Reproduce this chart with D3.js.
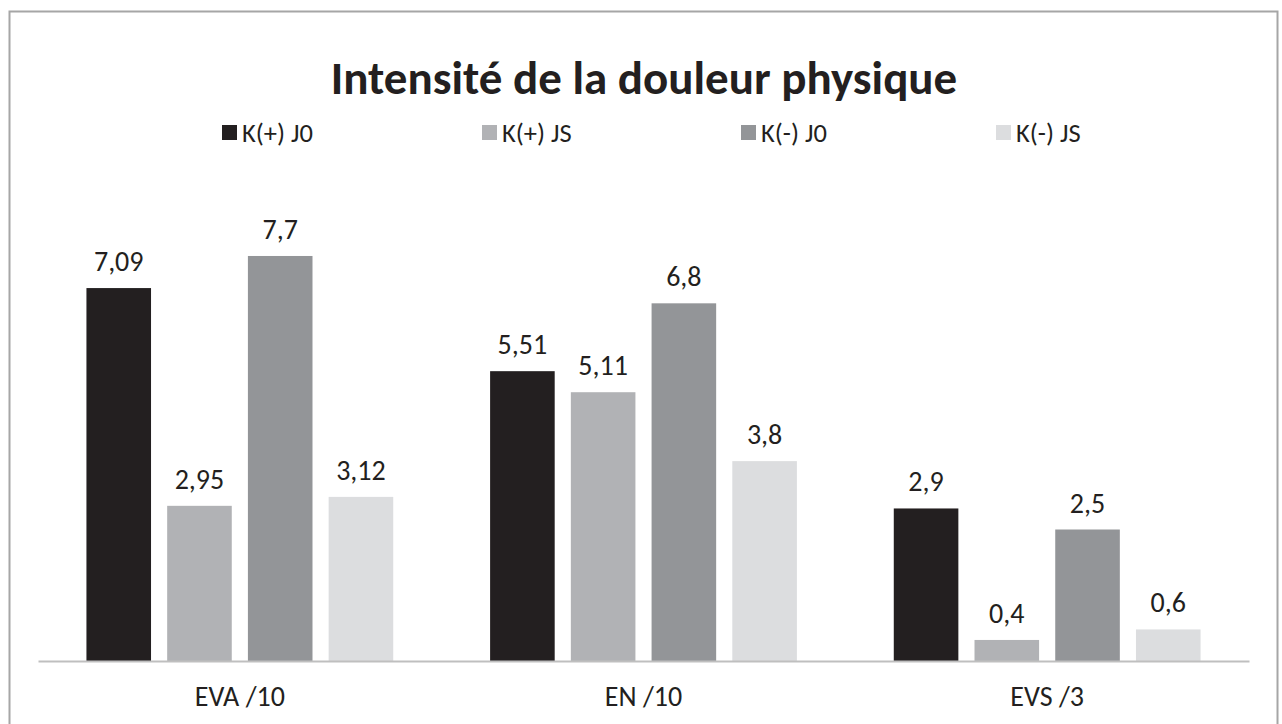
<!DOCTYPE html>
<html>
<head>
<meta charset="utf-8">
<script src="https://cdn.jsdelivr.net/npm/d3@7"></script>
<style>
  body { margin: 0; background: #fff; }
  svg { display: block; font-family: Carlito, Calibri, Lato, sans-serif; }
</style>
</head>
<body>
<svg width="1282" height="724"></svg>
<script>
const categories = ["EVA /10", "EN /10", "EVS /3"];
const series = ["K(+) J0", "K(+) JS", "K(-) J0", "K(-) JS"];
const kPlusJ0 = [7.09, 5.51, 2.9];
const kPlusJS = [2.95, 5.11, 0.4];
const kMinusJ0 = [7.7, 6.8, 2.5];
const kMinusJS = [3.12, 3.8, 0.6];
const colors = ["#231f20", "#b1b2b5", "#939598", "#dcdddf"];

const values = [kPlusJ0, kPlusJS, kMinusJ0, kMinusJS];
const rows = categories.map((c, i) => ({
  cat: c,
  vals: series.map((s, j) => ({ key: s, value: values[j][i] }))
}));

const svg = d3.select("svg");
const width = +svg.attr("width");
const margin = { top: 187.6, right: 33, bottom: 63, left: 38 };
const baseY = 661;

// cadre
svg.append("rect")
  .attr("x", 9.5).attr("y", 11.5)
  .attr("width", 1268).attr("height", 730)
  .attr("fill", "none")
  .attr("stroke", "#a6a6a6")
  .attr("stroke-width", 2);

svg.append("text")
  .attr("x", 644).attr("y", 94)
  .attr("text-anchor", "middle")
  .attr("font-size", 47)
  .attr("font-weight", "bold")
  .attr("fill", "#231f20")
  .text("Intensité de la douleur physique");

const x0 = d3.scaleBand().domain(categories)
  .range([margin.left, width - margin.right]);
const x1 = d3.scaleBand().domain(series)
  .range([0, x0.bandwidth()])
  .paddingInner(0.2).paddingOuter(0.6);
const y = d3.scaleLinear().domain([0, 9]).range([baseY, margin.top]);
const color = d3.scaleOrdinal(series, colors);

// legende
const legendX = [222, 482, 741, 996];
const lg = svg.append("g").selectAll("g")
  .data(series).join("g")
  .attr("transform", (d, i) => `translate(${legendX[i]},125)`);
lg.append("rect").attr("width", 15).attr("height", 15).attr("fill", d => color(d));
lg.append("text").attr("x", 20).attr("y", 17)
  .attr("font-size", 26.5).attr("fill", "#231f20")
  .text(d => d);

const groups = svg.append("g").selectAll("g")
  .data(rows).join("g")
  .attr("transform", d => `translate(${x0(d.cat)},0)`);

groups.selectAll("rect")
  .data(d => d.vals).join("rect")
  .attr("x", d => x1(d.key))
  .attr("width", x1.bandwidth())
  .attr("y", d => y(d.value))
  .attr("height", d => y(0) - y(d.value))
  .attr("fill", d => color(d.key));

groups.selectAll("text")
  .data(d => d.vals).join("text")
  .attr("x", d => x1(d.key) + x1.bandwidth() / 2)
  .attr("y", d => y(d.value) - 17)
  .attr("text-anchor", "middle")
  .attr("font-size", 28)
  .attr("fill", "#231f20")
  .text(d => String(d.value).replace(".", ","));

// axe x
const xAxis = svg.append("g")
  .attr("transform", `translate(0,${baseY})`)
  .call(d3.axisBottom(x0).tickSize(0).tickPadding(25));
xAxis.select(".domain").attr("stroke", "#bfbfbf").attr("stroke-width", 2);
xAxis.selectAll("text")
  .attr("font-size", 28)
  .attr("font-family", "Carlito, Calibri, Lato, sans-serif")
  .attr("fill", "#231f20")
  .attr("dy", "0.71em");
</script>
</body>
</html>
